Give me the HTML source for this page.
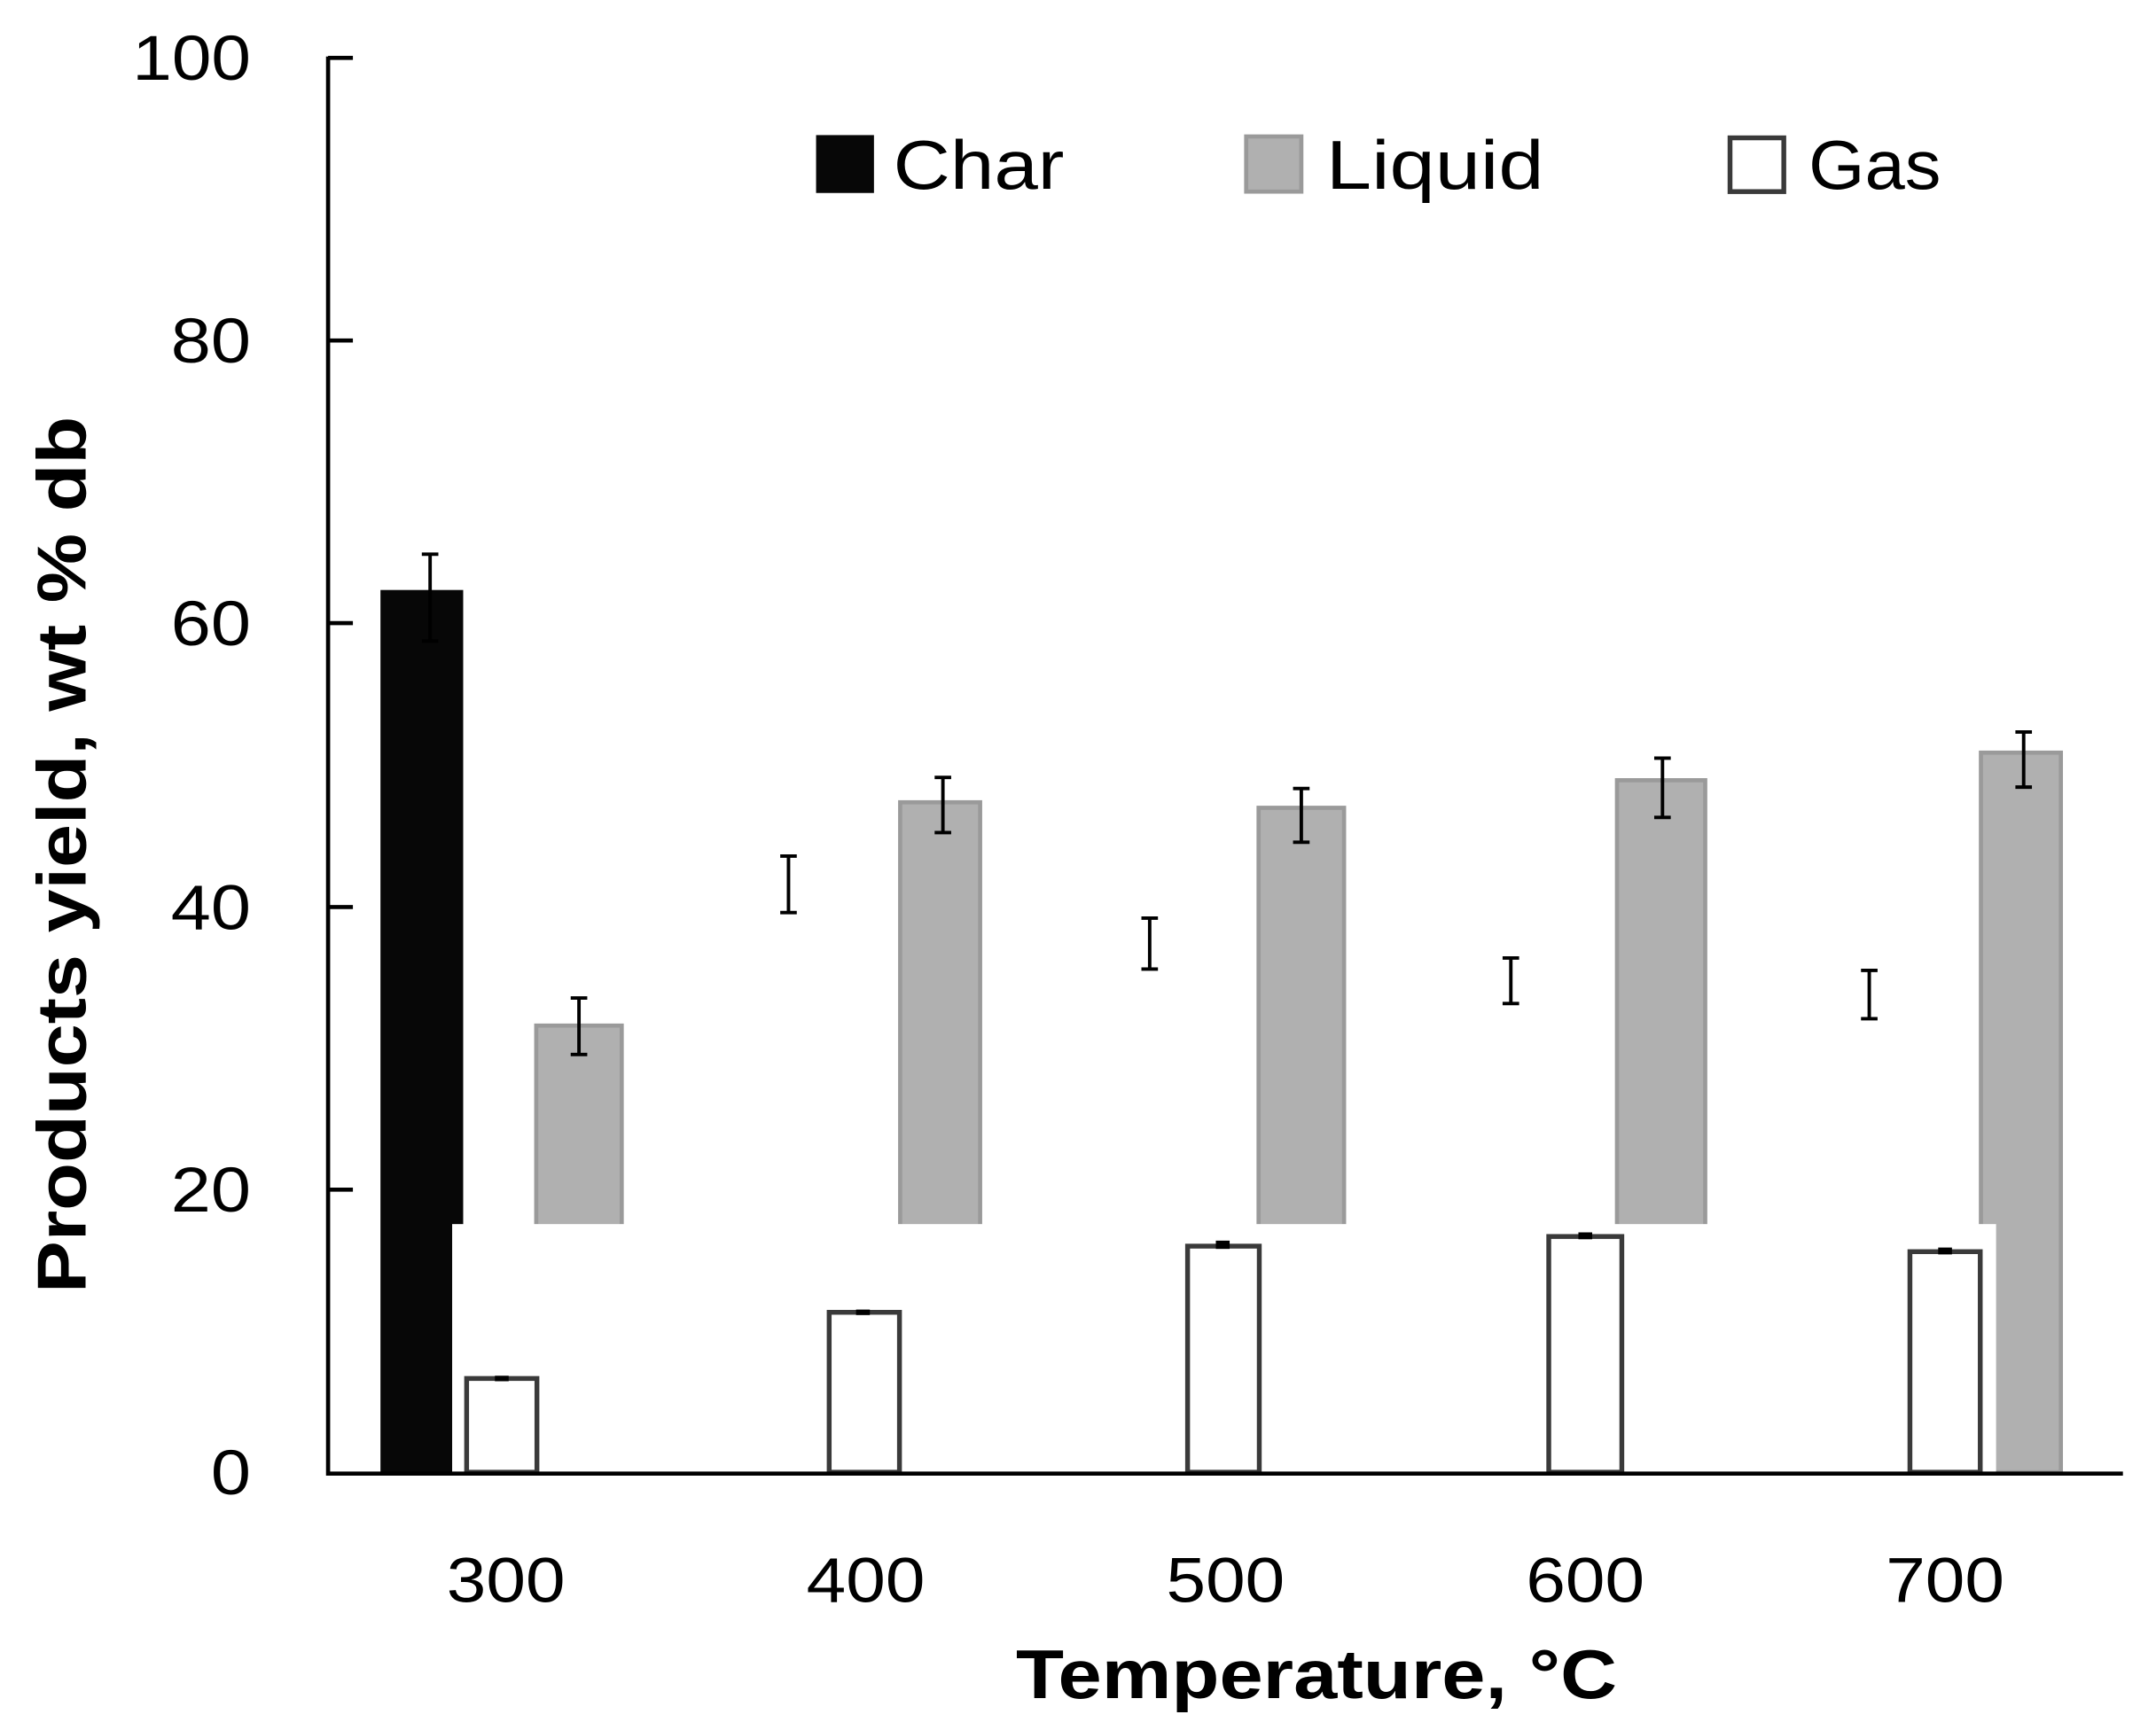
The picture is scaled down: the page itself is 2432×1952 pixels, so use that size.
<!DOCTYPE html>
<html><head><meta charset="utf-8"><style>
html,body{margin:0;padding:0;background:#fff;}
svg{display:block;}
text{font-family:"Liberation Sans",sans-serif;fill:#000;}
</style></head><body>
<svg width="2432" height="1952" viewBox="0 0 1564 1255" preserveAspectRatio="none" xmlns="http://www.w3.org/2000/svg">
<rect width="1564" height="1255" fill="#fff"/>
<rect x="276" y="428" width="60" height="640" fill="#070707"/>
<g fill="#b0b0b0" stroke="#9a9a9a" stroke-width="3">
<rect x="389" y="744" width="62" height="324"/>
<rect x="653" y="582" width="58" height="486"/>
<rect x="913" y="586" width="62" height="482"/>
<rect x="1173" y="566" width="64" height="502"/>
<rect x="1437" y="546" width="58" height="522"/>
</g>
<rect x="328" y="888" width="1120" height="180" fill="#fff"/>
<g fill="#fff" stroke="#3a3a3a" stroke-width="3.5">
<rect x="338.5" y="1000" width="51" height="68"/>
<rect x="601.5" y="952" width="51" height="116"/>
<rect x="861.5" y="904" width="52" height="164"/>
<rect x="1123.5" y="897" width="53" height="171"/>
<rect x="1385.5" y="908" width="51" height="160"/>
</g>
<g stroke="#000" stroke-width="2.5" fill="none">
<path d="M312 402V465M306 402h12M306 465h12"/>
<path d="M572 621V662M566 621h12M566 662h12"/>
<path d="M834 666V703M828 666h12M828 703h12"/>
<path d="M1096 695V728M1090 695h12M1090 728h12"/>
<path d="M1356 704V739M1350 704h12M1350 739h12"/>
<path d="M420 724V765M414 724h12M414 765h12"/>
<path d="M684 564V604M678 564h12M678 604h12"/>
<path d="M944 572V611M938 572h12M938 611h12"/>
<path d="M1206 550V593M1200 550h12M1200 593h12"/>
<path d="M1468 531V571M1462 531h12M1462 571h12"/>
</g>
<g fill="#000">
<rect x="359" y="998" width="10" height="4"/>
<rect x="621" y="950" width="10" height="4"/>
<rect x="882" y="900" width="10" height="6"/>
<rect x="1145" y="894" width="10" height="5"/>
<rect x="1406" y="905" width="10" height="5"/>
</g>
<g stroke="#000" stroke-width="3" fill="none">
<path d="M238 41V1069H1540"/>
<path d="M238 42h18M238 247h18M238 452h18M238 658h18M238 863h18"/>
</g>
<g font-size="46" text-anchor="end">
<text x="182" y="58" textLength="86" lengthAdjust="spacingAndGlyphs">100</text>
<text x="182" y="263" textLength="58" lengthAdjust="spacingAndGlyphs">80</text>
<text x="182" y="468" textLength="58" lengthAdjust="spacingAndGlyphs">60</text>
<text x="182" y="674" textLength="58" lengthAdjust="spacingAndGlyphs">40</text>
<text x="182" y="879" textLength="58" lengthAdjust="spacingAndGlyphs">20</text>
<text x="182" y="1084" textLength="29" lengthAdjust="spacingAndGlyphs">0</text>
</g>
<g font-size="46" text-anchor="middle">
<text x="367" y="1162" textLength="86" lengthAdjust="spacingAndGlyphs">300</text>
<text x="628" y="1162" textLength="86" lengthAdjust="spacingAndGlyphs">400</text>
<text x="889" y="1162" textLength="86" lengthAdjust="spacingAndGlyphs">500</text>
<text x="1150" y="1162" textLength="86" lengthAdjust="spacingAndGlyphs">600</text>
<text x="1411" y="1162" textLength="86" lengthAdjust="spacingAndGlyphs">700</text>
</g>
<text x="955" y="1232" font-size="50" font-weight="bold" text-anchor="middle" textLength="436" lengthAdjust="spacingAndGlyphs">Temperature, °C</text>
<text transform="translate(62,620) rotate(-90)" font-size="50" font-weight="bold" text-anchor="middle" textLength="636" lengthAdjust="spacingAndGlyphs">Products yield, wt % db</text>
<rect x="592" y="98" width="42" height="42" fill="#070707"/>
<text x="648" y="137" font-size="50" textLength="124" lengthAdjust="spacingAndGlyphs">Char</text>
<rect x="904" y="99" width="40" height="40" fill="#b0b0b0" stroke="#9a9a9a" stroke-width="3"/>
<text x="962" y="137" font-size="50" textLength="158" lengthAdjust="spacingAndGlyphs">Liquid</text>
<rect x="1255" y="100" width="39" height="39" fill="#fff" stroke="#3a3a3a" stroke-width="3.5"/>
<text x="1312" y="137" font-size="50" textLength="96" lengthAdjust="spacingAndGlyphs">Gas</text>
</svg>
</body></html>
